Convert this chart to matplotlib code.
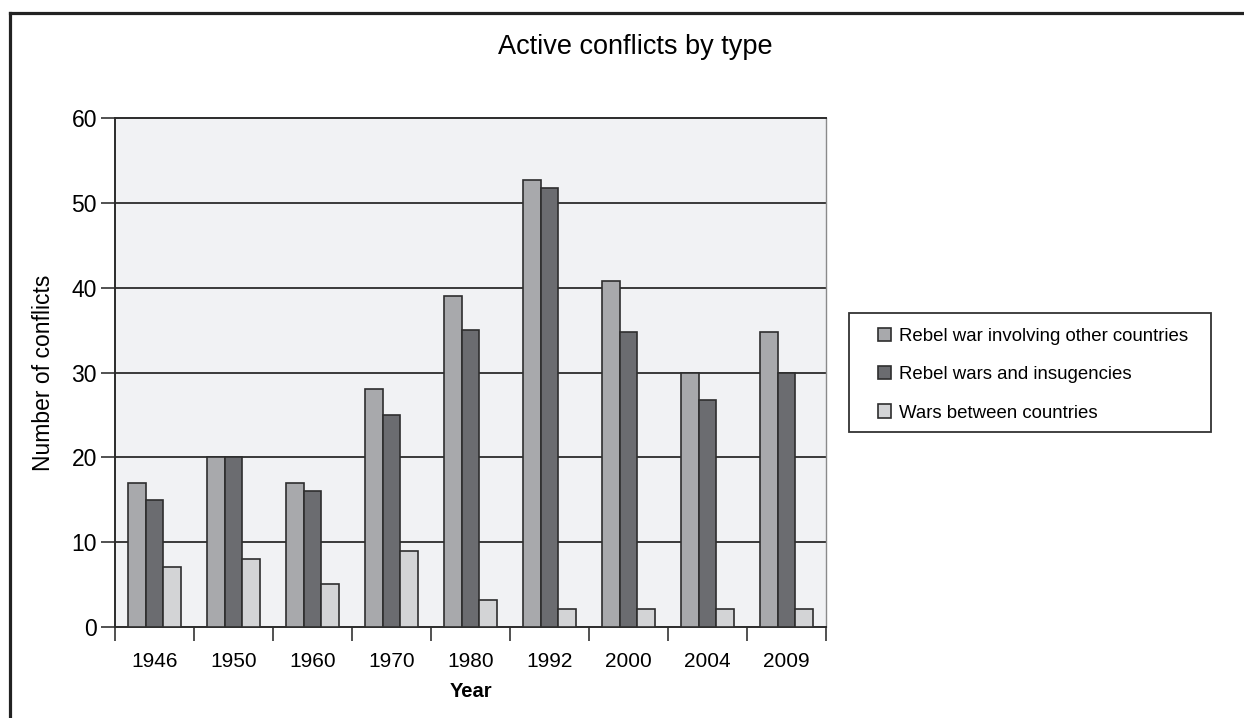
import numpy as np
import matplotlib
matplotlib.use("Agg")
import matplotlib.pyplot as plt
from matplotlib.lines import Line2D
from matplotlib.patches import Rectangle

years = ["1946", "1950", "1960", "1970", "1980", "1992", "2000", "2004", "2009"]
rebel_other = [17, 20, 17, 28, 39, 52.7, 40.8, 30, 34.8]
rebel_wars = [15, 20, 16, 25, 35, 51.7, 34.8, 26.8, 30]
between = [7.1, 8, 5.1, 9, 3.2, 2.1, 2.1, 2.1, 2.1]
labels = ["Rebel war involving other countries", "Rebel wars and insugencies", "Wars between countries"]
colors = ["#a8a9ac", "#6b6c70", "#d3d4d6"]

plt.rcParams['font.family'] = ['Liberation Sans Narrow', 'Liberation Sans', 'DejaVu Sans']
regular = ['Liberation Sans', 'DejaVu Sans']

W, H = 1244, 718
fig = plt.figure(figsize=(W / 100, H / 100), dpi=100)
ax = fig.add_axes([115 / W, 1 - 627 / H, (826 - 115) / W, (627 - 118) / H])
ax.set_facecolor("#f1f2f4")

x = np.arange(len(years))
width = 0.22
edge = "#2e2e2e"
bars = []
for k, vals in enumerate([rebel_other, rebel_wars, between]):
    b = ax.bar(x + (k - 1) * width, vals, width, color=colors[k], edgecolor=edge,
               linewidth=1.2, label=labels[k], zorder=3)
    bars.append(b)

ax.set_ylim(0, 60)
ax.set_xlim(-0.5, len(years) - 0.5)
ax.set_yticks(np.arange(0, 61, 10))
for yv in range(10, 60, 10):
    ax.axhline(yv, color="#2b2b2b", linewidth=1.3, zorder=1)

ax.set_xticks(x)
ax.set_xticklabels(years, fontsize=15)
ax.set_xticks(np.arange(-0.5, len(years), 1), minor=True)
ax.tick_params(axis="x", which="major", length=0, pad=18)
ax.tick_params(axis="x", which="minor", length=10, width=1.2, color="#333333", direction="out")
ax.tick_params(axis="y", length=10, width=1.2, color="#333333", direction="out",
               labelsize=16.5, pad=3, labelfontfamily=regular)

for s in ["left", "bottom", "top"]:
    ax.spines[s].set_color("#2b2b2b")
    ax.spines[s].set_linewidth(1.4)
ax.spines["right"].set_color("#8a8a8a")
ax.spines["right"].set_linewidth(1.0)

ax.set_ylabel("Number of conflicts", fontsize=16.5, labelpad=12, family=regular)
ax.set_xlabel("Year", fontsize=14.5, fontweight="bold", labelpad=8)

fig.text(635 / W, 1 - 47 / H, "Active conflicts by type", ha="center", va="center",
         fontsize=19.5, family=regular)

# legend box drawn separately, entries without frame
fig.add_artist(Rectangle((849 / W, 1 - 432 / H), (1211 - 849) / W, (432 - 313) / H,
                         transform=fig.transFigure, facecolor="white", edgecolor="#333333",
                         linewidth=1.3, zorder=5))
leg = fig.legend(handles=bars, labels=labels, loc="upper left",
                 bbox_to_anchor=(861 / W, 1 - 311 / H), frameon=False,
                 prop={'family': regular, 'size': 13.4},
                 handlelength=0.72, handleheight=0.72, handletextpad=0.4,
                 labelspacing=1.14, borderpad=0.4)
leg.set_zorder(6)

# outer frame (left and top edges visible)
fig.add_artist(Line2D([9.5 / W, 9.5 / W], [0, 1 - 13 / H], transform=fig.transFigure,
                      color="#222222", linewidth=2.3))
fig.add_artist(Line2D([9.5 / W, 1], [1 - 13 / H, 1 - 13 / H], transform=fig.transFigure,
                      color="#222222", linewidth=2.3))

fig.savefig("out.png", dpi=100)
